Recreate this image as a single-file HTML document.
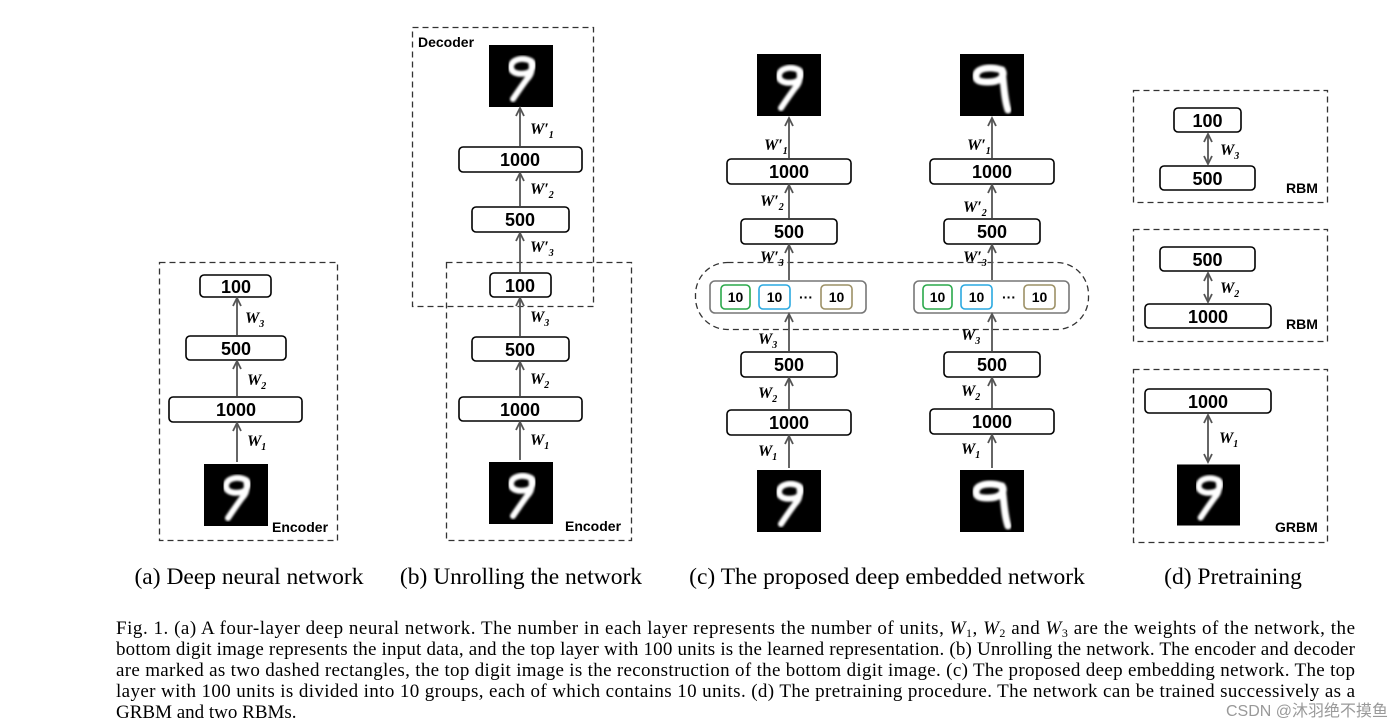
<!DOCTYPE html>
<html><head><meta charset="utf-8"><style>
html,body{margin:0;padding:0;background:#fff;width:1395px;height:728px;overflow:hidden}
svg{display:block}
.bx{fill:#fff;stroke:#000;stroke-width:1.6}
.bt{font-family:"Liberation Sans",sans-serif;font-weight:bold;font-size:18px;text-anchor:middle;fill:#000}
.dl{fill:none;stroke:#333;stroke-width:1.3;stroke-dasharray:6,4}
.ar{stroke:#555;stroke-width:1.8;fill:none}
.w{font-family:"Liberation Serif",serif;font-style:italic;font-weight:bold;font-size:16px;fill:#000}
.lb{font-family:"Liberation Sans",sans-serif;font-weight:bold;font-size:14px;fill:#000}
.cap{font-family:"Liberation Serif",serif;font-size:23.5px;fill:#000;text-anchor:middle}
.ft{font-family:"Liberation Serif",serif;font-size:19px;fill:#000}
.sb{fill:#fff;stroke-width:1.6}
.st{font-family:"Liberation Sans",sans-serif;font-weight:bold;font-size:14px;text-anchor:middle}
</style></head><body>
<svg width="1395" height="728" viewBox="0 0 1395 728" xmlns="http://www.w3.org/2000/svg">
<defs>
<marker id="ah" markerWidth="12" markerHeight="12" refX="10" refY="6" orient="auto-start-reverse" markerUnits="userSpaceOnUse" viewBox="0 0 12 12">
<path d="M2,2 L10,6 L2,10" fill="none" stroke="#555" stroke-width="1.8"/></marker>
<filter id="bl"><feGaussianBlur stdDeviation="1"/></filter>
<symbol id="d9" viewBox="0 0 64 62">
<rect width="64" height="62" fill="#000"/>
<path d="M22,22 C22,14 34,12 42,16 C46,19 44,26 38,28 C30,30 22,28 22,22 Z M42,16 C44,24 42,30 38,34 C32,42 28,48 24,54" fill="none" stroke="#fff" stroke-width="6" stroke-linecap="round" filter="url(#bl)"/>
</symbol>
<symbol id="dq" viewBox="0 0 64 62">
<rect width="64" height="62" fill="#000"/>
<path d="M16,22 C16,14 30,12 42,16 C46,22 40,28 28,28 C18,28 16,26 16,22 Z M42,16 C44,30 44,44 48,56" fill="none" stroke="#fff" stroke-width="7" stroke-linecap="round" filter="url(#bl)"/>
</symbol>
</defs>

<!-- Panel (a) -->
<rect class="dl" x="159.5" y="262.5" width="178" height="278"/>
<rect class="bx" x="200" y="275" width="71" height="22" rx="4"/><text class="bt" x="236" y="293">100</text>
<rect class="bx" x="186" y="336" width="100" height="24" rx="4"/><text class="bt" x="236" y="355">500</text>
<rect class="bx" x="169" y="397" width="133" height="25" rx="4"/><text class="bt" x="236" y="416">1000</text>
<use href="#d9" x="204" y="464" width="64" height="62"/>
<line class="ar" x1="237" y1="462" x2="237" y2="423" marker-end="url(#ah)"/>
<line class="ar" x1="237" y1="396" x2="237" y2="361" marker-end="url(#ah)"/>
<line class="ar" x1="237" y1="335" x2="237" y2="298" marker-end="url(#ah)"/>
<text class="w" x="247" y="446">W<tspan font-size="10" dy="4">1</tspan></text>
<text class="w" x="247" y="385">W<tspan font-size="10" dy="4">2</tspan></text>
<text class="w" x="245" y="323">W<tspan font-size="10" dy="4">3</tspan></text>
<text class="lb" x="272" y="532">Encoder</text>

<!-- Panel (b) -->
<rect class="dl" x="412.5" y="27.5" width="181" height="279"/>
<rect class="dl" x="446.5" y="262.5" width="185" height="278"/>
<text class="lb" x="418" y="47">Decoder</text>
<use href="#d9" x="489" y="45" width="64" height="62"/>
<rect class="bx" x="459" y="147" width="123" height="25" rx="4"/><text class="bt" x="520" y="166">1000</text>
<rect class="bx" x="472" y="207" width="97" height="25" rx="4"/><text class="bt" x="520" y="226">500</text>
<rect class="bx" x="490" y="273" width="61" height="24" rx="4"/><text class="bt" x="520" y="292">100</text>
<rect class="bx" x="472" y="337" width="97" height="24" rx="4"/><text class="bt" x="520" y="356">500</text>
<rect class="bx" x="459" y="397" width="123" height="24" rx="4"/><text class="bt" x="520" y="416">1000</text>
<use href="#d9" x="489" y="462" width="64" height="62"/>
<line class="ar" x1="520" y1="460" x2="520" y2="422" marker-end="url(#ah)"/>
<line class="ar" x1="520" y1="396" x2="520" y2="362" marker-end="url(#ah)"/>
<line class="ar" x1="520" y1="336" x2="520" y2="298" marker-end="url(#ah)"/>
<line class="ar" x1="520" y1="272" x2="520" y2="233" marker-end="url(#ah)"/>
<line class="ar" x1="520" y1="206" x2="520" y2="173" marker-end="url(#ah)"/>
<line class="ar" x1="520" y1="146" x2="520" y2="108" marker-end="url(#ah)"/>
<text class="w" x="530" y="445">W<tspan font-size="10" dy="4">1</tspan></text>
<text class="w" x="530" y="384">W<tspan font-size="10" dy="4">2</tspan></text>
<text class="w" x="530" y="322">W<tspan font-size="10" dy="4">3</tspan></text>
<text class="w" x="530" y="252">W′<tspan font-size="10" dy="4">3</tspan></text>
<text class="w" x="530" y="194">W′<tspan font-size="10" dy="4">2</tspan></text>
<text class="w" x="530" y="134">W′<tspan font-size="10" dy="4">1</tspan></text>
<text class="lb" x="565" y="531">Encoder</text>

<!-- Panel (c) -->
<rect x="695.5" y="262.5" width="393" height="67" rx="32" class="dl"/>
<use href="#d9" x="757" y="54" width="64" height="62"/>
<rect class="bx" x="727" y="159" width="124" height="25" rx="4"/><text class="bt" x="789" y="178">1000</text>
<rect class="bx" x="741" y="219" width="96" height="25" rx="4"/><text class="bt" x="789" y="238">500</text>
<rect x="710" y="281" width="156" height="32" rx="5" fill="#fff" stroke="#777" stroke-width="1.6"/>
<rect class="sb" x="721" y="285" width="29" height="24" rx="4" stroke="#2aa84a"/><text class="st" x="735.5" y="302">10</text>
<rect class="sb" x="759" y="285" width="31" height="24" rx="4" stroke="#2aa8e0"/><text class="st" x="774.5" y="302">10</text>
<text class="st" x="806" y="302">···</text>
<rect class="sb" x="821" y="285" width="31" height="24" rx="4" stroke="#9c9066"/><text class="st" x="836.5" y="302">10</text>
<rect class="bx" x="741" y="352" width="96" height="25" rx="4"/><text class="bt" x="789" y="371">500</text>
<rect class="bx" x="727" y="410" width="124" height="25" rx="4"/><text class="bt" x="789" y="429">1000</text>
<use href="#d9" x="757" y="470" width="64" height="62"/>
<line class="ar" x1="789" y1="468" x2="789" y2="436" marker-end="url(#ah)"/>
<line class="ar" x1="789" y1="409" x2="789" y2="378" marker-end="url(#ah)"/>
<line class="ar" x1="789" y1="351" x2="789" y2="314" marker-end="url(#ah)"/>
<line class="ar" x1="789" y1="280" x2="789" y2="245" marker-end="url(#ah)"/>
<line class="ar" x1="789" y1="218" x2="789" y2="185" marker-end="url(#ah)"/>
<line class="ar" x1="789" y1="158" x2="789" y2="118" marker-end="url(#ah)"/>
<text class="w" x="758" y="456">W<tspan font-size="10" dy="4">1</tspan></text>
<text class="w" x="758" y="398">W<tspan font-size="10" dy="4">2</tspan></text>
<text class="w" x="758" y="344">W<tspan font-size="10" dy="4">3</tspan></text>
<text class="w" x="760" y="262">W′<tspan font-size="10" dy="4">3</tspan></text>
<text class="w" x="760" y="206">W′<tspan font-size="10" dy="4">2</tspan></text>
<text class="w" x="764" y="150">W′<tspan font-size="10" dy="4">1</tspan></text>
<use href="#dq" x="960" y="54" width="64" height="62"/>
<rect class="bx" x="930" y="159" width="124" height="25" rx="4"/><text class="bt" x="992" y="178">1000</text>
<rect class="bx" x="944" y="219" width="96" height="25" rx="4"/><text class="bt" x="992" y="238">500</text>
<rect x="914" y="281" width="155" height="32" rx="5" fill="#fff" stroke="#777" stroke-width="1.6"/>
<rect class="sb" x="923" y="285" width="29" height="24" rx="4" stroke="#2aa84a"/><text class="st" x="937.5" y="302">10</text>
<rect class="sb" x="961" y="285" width="31" height="24" rx="4" stroke="#2aa8e0"/><text class="st" x="976.5" y="302">10</text>
<text class="st" x="1009" y="302">···</text>
<rect class="sb" x="1024" y="285" width="31" height="24" rx="4" stroke="#9c9066"/><text class="st" x="1039.5" y="302">10</text>
<rect class="bx" x="944" y="352" width="96" height="25" rx="4"/><text class="bt" x="992" y="371">500</text>
<rect class="bx" x="930" y="409" width="124" height="25" rx="4"/><text class="bt" x="992" y="428">1000</text>
<use href="#dq" x="960" y="470" width="64" height="62"/>
<line class="ar" x1="992" y1="468" x2="992" y2="435" marker-end="url(#ah)"/>
<line class="ar" x1="992" y1="408" x2="992" y2="378" marker-end="url(#ah)"/>
<line class="ar" x1="992" y1="351" x2="992" y2="314" marker-end="url(#ah)"/>
<line class="ar" x1="992" y1="280" x2="992" y2="245" marker-end="url(#ah)"/>
<line class="ar" x1="992" y1="218" x2="992" y2="185" marker-end="url(#ah)"/>
<line class="ar" x1="992" y1="158" x2="992" y2="118" marker-end="url(#ah)"/>
<text class="w" x="961" y="454">W<tspan font-size="10" dy="4">1</tspan></text>
<text class="w" x="961" y="396">W<tspan font-size="10" dy="4">2</tspan></text>
<text class="w" x="961" y="340">W<tspan font-size="10" dy="4">3</tspan></text>
<text class="w" x="963" y="262">W′<tspan font-size="10" dy="4">3</tspan></text>
<text class="w" x="963" y="212">W′<tspan font-size="10" dy="4">2</tspan></text>
<text class="w" x="967" y="150">W′<tspan font-size="10" dy="4">1</tspan></text>

<!-- Panel (d) -->
<rect class="dl" x="1133.5" y="90.5" width="194" height="112"/>
<rect class="bx" x="1174" y="108" width="67" height="24" rx="4"/><text class="bt" x="1207.5" y="127">100</text>
<rect class="bx" x="1160" y="166" width="95" height="24" rx="4"/><text class="bt" x="1207.5" y="185">500</text>
<line class="ar" x1="1208" y1="134" x2="1208" y2="164" marker-start="url(#ah)" marker-end="url(#ah)"/>
<text class="w" x="1220" y="155">W<tspan font-size="10" dy="4">3</tspan></text>
<text class="lb" x="1286" y="193">RBM</text>

<rect class="dl" x="1133.5" y="229.5" width="194" height="112"/>
<rect class="bx" x="1160" y="247" width="95" height="24" rx="4"/><text class="bt" x="1207.5" y="266">500</text>
<rect class="bx" x="1145" y="304" width="126" height="24" rx="4"/><text class="bt" x="1208" y="323">1000</text>
<line class="ar" x1="1208" y1="273" x2="1208" y2="302" marker-start="url(#ah)" marker-end="url(#ah)"/>
<text class="w" x="1220" y="293">W<tspan font-size="10" dy="4">2</tspan></text>
<text class="lb" x="1286" y="329">RBM</text>

<rect class="dl" x="1133.5" y="369.5" width="194" height="173"/>
<rect class="bx" x="1145" y="389" width="126" height="24" rx="4"/><text class="bt" x="1208" y="408">1000</text>
<use href="#d9" x="1177" y="464" width="63" height="62"/>
<line class="ar" x1="1208" y1="415" x2="1208" y2="462" marker-start="url(#ah)" marker-end="url(#ah)"/>
<text class="w" x="1219" y="443">W<tspan font-size="10" dy="4">1</tspan></text>
<text class="lb" x="1275" y="532">GRBM</text>

<!-- Captions -->
<text class="cap" x="249" y="584">(a) Deep neural network</text>
<text class="cap" x="521" y="584">(b) Unrolling the network</text>
<text class="cap" x="887" y="584">(c) The proposed deep embedded network</text>
<text class="cap" x="1233" y="584">(d) Pretraining</text>

<text class="ft" x="116" y="634" textLength="1239" lengthAdjust="spacing">Fig. 1.   (a) A four-layer deep neural network. The number in each layer represents the number of units, <tspan font-style="italic">W</tspan><tspan font-size="12" dy="3">1</tspan><tspan dy="-3">, </tspan><tspan font-style="italic">W</tspan><tspan font-size="12" dy="3">2</tspan><tspan dy="-3"> and </tspan><tspan font-style="italic">W</tspan><tspan font-size="12" dy="3">3</tspan><tspan dy="-3"> are the weights of the network, the</tspan></text>
<text class="ft" x="116" y="655" textLength="1239" lengthAdjust="spacing">bottom digit image represents the input data, and the top layer with 100 units is the learned representation. (b) Unrolling the network. The encoder and decoder</text>
<text class="ft" x="116" y="676" textLength="1239" lengthAdjust="spacing">are marked as two dashed rectangles, the top digit image is the reconstruction of the bottom digit image. (c) The proposed deep embedding network. The top</text>
<text class="ft" x="116" y="697" textLength="1239" lengthAdjust="spacing">layer with 100 units is divided into 10 groups, each of which contains 10 units. (d) The pretraining procedure. The network can be trained successively as a</text>
<text class="ft" x="116" y="718">GRBM and two RBMs.</text>
<text x="1388" y="716" text-anchor="end" font-family="Liberation Sans, Noto Sans CJK SC, sans-serif" font-size="16" fill="#999">CSDN @沐羽绝不摸鱼</text>
</svg>
</body></html>
